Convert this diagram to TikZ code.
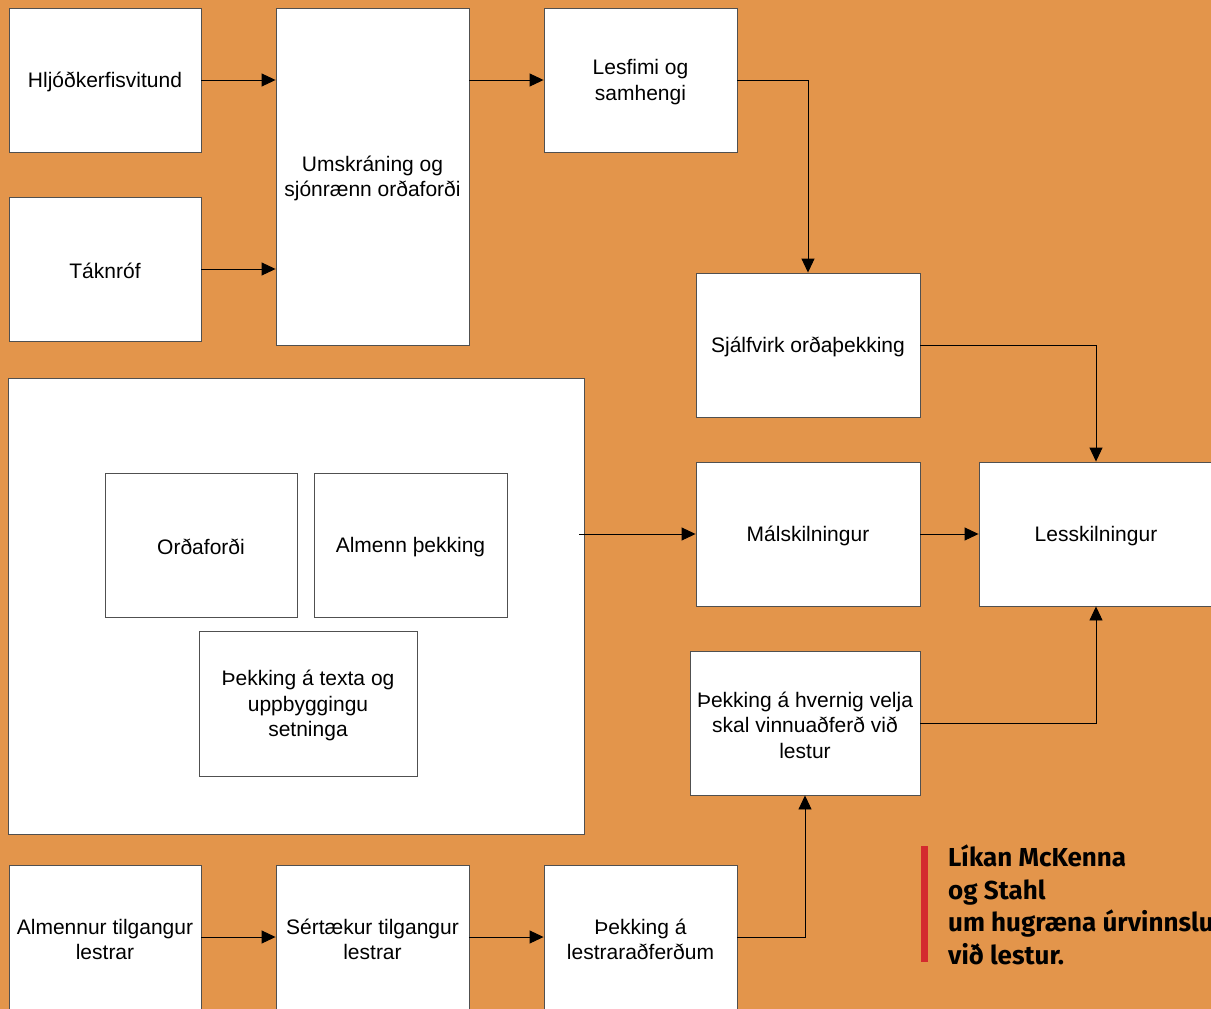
\documentclass[tikz,border=0pt]{standalone}
\usepackage{fontspec}
\setmainfont{Liberation Sans}
\newfontfamily\capfont{Fira Sans}
\usetikzlibrary{arrows.meta}
\definecolor{bgorange}{HTML}{E3954B}
\definecolor{edgegrey}{HTML}{505050}
\definecolor{barred}{HTML}{D42A2E}
\tikzset{
  x=1pt,y=-1pt,
  box/.style={draw=edgegrey,line width=0.9pt,fill=white,inner sep=0pt},
  boxtext/.style={align=center,inner sep=0pt,font=\fontsize{21}{25.5}\selectfont},
  conn/.style={draw=black,line width=0.9pt,-{Triangle[length=14pt,width=13pt]}},
}
\newcommand{\boxat}[6]{% name, x1,y1,x2,y2, text
  \node[box,minimum width={#4-#2},minimum height={#5-#3},
    label={[boxtext,yshift=-2pt]center:{#6}}] (#1) at ({(#2+#4)/2},{(#3+#5)/2}) {};}
\begin{document}
\begin{tikzpicture}
\fill[bgorange] (0,0) rectangle (1211,1009);
\useasboundingbox (0,0) rectangle (1211,1009);
\begin{scope}
\clip (0,0) rectangle (1211,1009);
\boxat{hlj}{9}{8}{201}{152}{Hljóðkerfisvitund}
\boxat{tak}{9}{197}{201}{341}{Táknróf}
\boxat{ums}{276}{8}{469}{345}{Umskráning og\\sjónrænn orðaforði}
\boxat{les}{544}{8}{737}{152}{Lesfimi og\\samhengi}
\boxat{sja}{696}{273}{920}{417}{Sjálfvirk orðaþekking}
\boxat{big}{8}{378}{584}{834}{}
\boxat{ord}{105}{473}{297}{617}{Orðaforði}
\boxat{alm}{314}{473}{507}{617}{Almenn þekking}
\boxat{tex}{199}{631}{417}{776}{Þekking á texta og\\uppbyggingu\\setninga}
\boxat{mal}{696}{462}{920}{606}{Málskilningur}
\boxat{lsk}{979}{462}{1213}{606}{Lesskilningur}
\boxat{hve}{690}{651}{920}{795}{Þekking á hvernig velja\\skal vinnuaðferð við\\lestur}
\boxat{atg}{9}{865}{201}{1010}{Almennur tilgangur\\lestrar}
\boxat{stg}{276}{865}{469}{1010}{Sértækur tilgangur\\lestrar}
\boxat{lad}{544}{865}{737}{1010}{Þekking á\\lestraraðferðum}

\draw[conn] (hlj.east) -- (hlj.east -| ums.west);
\draw[conn] (tak.east) -- (tak.east -| ums.west);
\draw[conn] (ums.east |- les.west) -- (les.west);
\draw[conn] (les.east) -| (sja.north);
\draw[conn] (sja.east) -| (lsk.north);
\coordinate (bigout) at (579,534);
\draw[conn] (bigout) -- (mal.west);
\draw[conn] (mal.east) -- (lsk.west |- mal.east);
\draw[conn] (hve.east) -| (lsk.south);
\draw[conn] (atg.east |- 0,937) -- (stg.west |- 0,937);
\draw[conn] (stg.east |- 0,937) -- (lad.west |- 0,937);
\draw[conn] (lad.east |- 0,937) -| (hve.south);

\fill[barred] (921,846) rectangle (928,962);
\node[anchor=north west,align=left,inner sep=0pt,
  font=\capfont\bfseries\fontsize{26}{32.5}\selectfont] (cap) at (948,845)
  {Líkan McKenna\\og Stahl\\um hugræna úrvinnslu\\við lestur.};
\end{scope}
\end{tikzpicture}
\end{document}
